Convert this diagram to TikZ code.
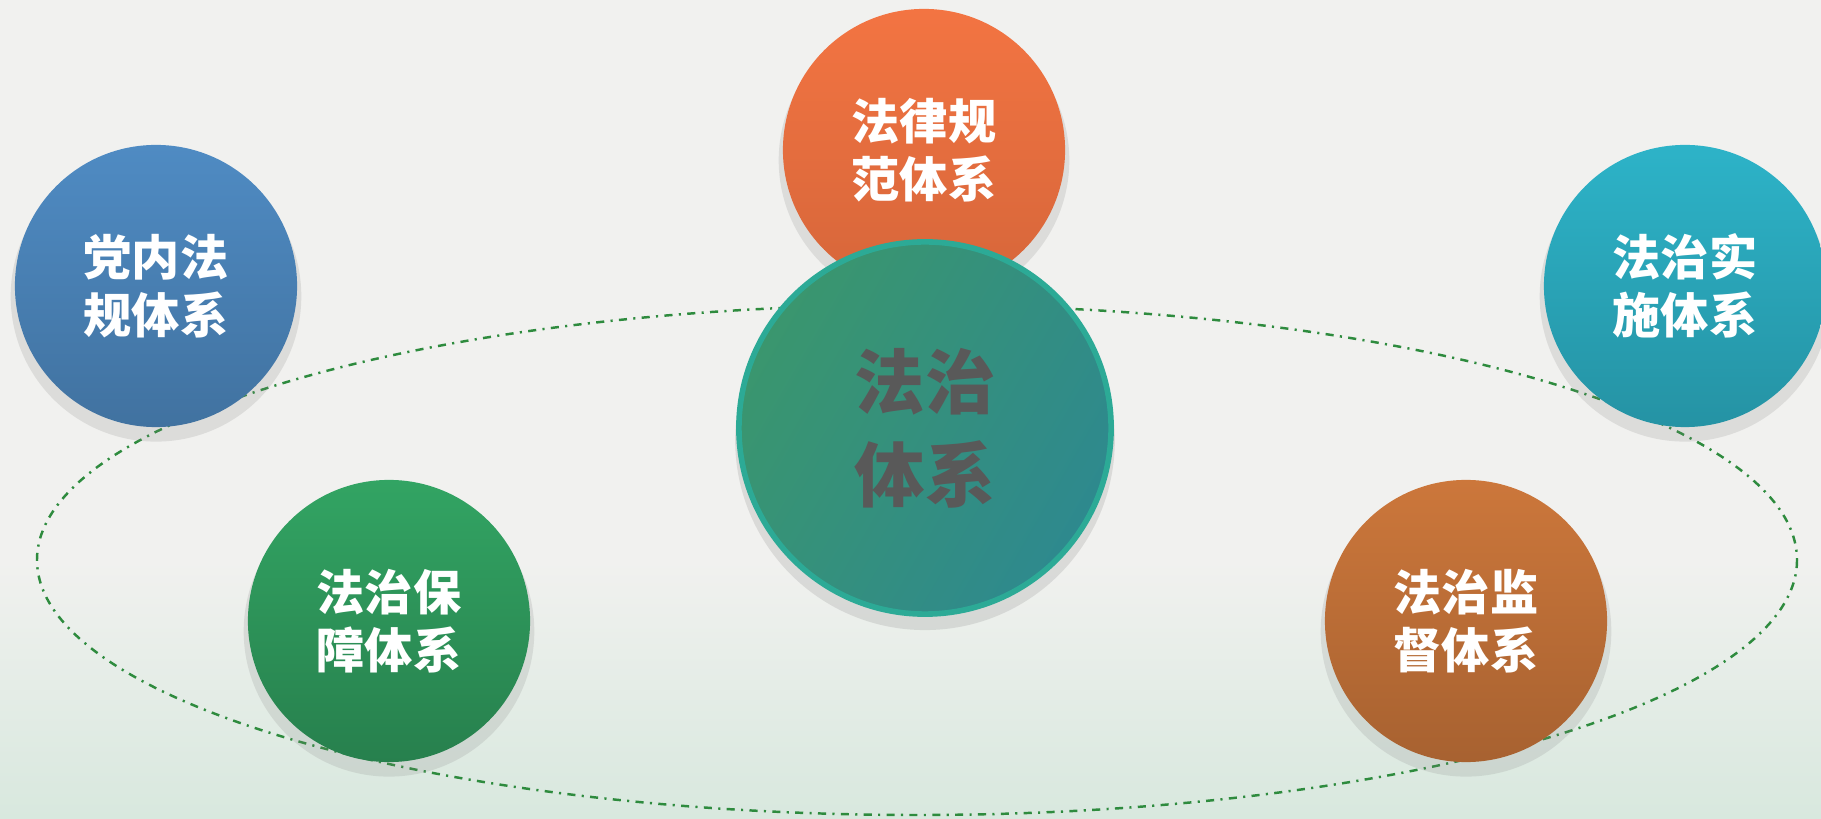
\documentclass[tikz,border=0pt]{standalone}
\usepackage{fontspec}
\newfontfamily\cjk{Noto Sans CJK SC}
\usetikzlibrary{shadows}
\definecolor{bgtop}{HTML}{F1F1EF}
\definecolor{bgbot}{HTML}{D8E8DE}
\definecolor{ringgreen}{HTML}{2E8B3E}
\definecolor{partblue}{HTML}{4F8BC3}
\definecolor{lawred}{HTML}{F37442}
\definecolor{implcyan}{HTML}{2DB3C8}
\definecolor{guargreen}{HTML}{32A463}
\definecolor{supbrown}{HTML}{CC773B}
\definecolor{coreA}{HTML}{3A966E}
\definecolor{coreB}{HTML}{2E898E}
\definecolor{corerim}{HTML}{2CAA96}
\tikzstyle{sys} = [circle, minimum size=2.82cm, inner sep=0pt, align=center, text=white,
  font={\cjk\bfseries\fontsize{13.7}{16.5}\selectfont},
  drop shadow={opacity=0.18, shadow xshift=0pt, shadow yshift=-0.1cm, shadow scale=1.03}]
\tikzstyle{partsys} = [sys, top color=partblue, middle color=partblue, bottom color=partblue!82!black]
\tikzstyle{lawsys} = [sys, top color=lawred, middle color=lawred, bottom color=lawred!88!black]
\tikzstyle{implsys} = [sys, top color=implcyan, middle color=implcyan, bottom color=implcyan!82!black]
\tikzstyle{guarsys} = [sys, top color=guargreen, middle color=guargreen, bottom color=guargreen!78!black]
\tikzstyle{supsys} = [sys, top color=supbrown, middle color=supbrown, bottom color=supbrown!82!black]
\tikzstyle{core} = [circle, minimum size=3.72cm, inner sep=0pt, align=center, text=black!65,
  left color=coreA, right color=coreB, shading angle=60, draw=corerim, line width=1.6pt,
  font={\cjk\bfseries\fontsize{20}{26.5}\selectfont},
  drop shadow={opacity=0.2, shadow xshift=0pt, shadow yshift=-0.12cm, shadow scale=1.02}]
\tikzstyle{ring} = [draw=ringgreen, line width=0.7pt, dash pattern=on 2.3pt off 1.8pt on 0.6pt off 1.8pt]

\begin{document}
\begin{tikzpicture}[x=0.01cm, y=-0.01cm]
    \useasboundingbox (0,0) rectangle (1821,819);
    \fill[bgtop] (0,0) rectangle (1821,560);
    \shade[top color=bgtop, bottom color=bgbot] (0,560) rectangle (1821,819);
    \draw[ring] (917,560) ellipse [x radius=880, y radius=255];
    \node[partsys](party) at (156,286){党内法\\规体系};
    \node[lawsys](law) at (924,150){法律规\\范体系};
    \node[implsys](impl) at (1685,286){法治实\\施体系};
    \node[guarsys](guar) at (389,621){法治保\\障体系};
    \node[supsys](sup) at (1466,621){法治监\\督体系};
    \node[core](rule) at (925,428){法治\\体系};
  \end{tikzpicture}
\end{document}
